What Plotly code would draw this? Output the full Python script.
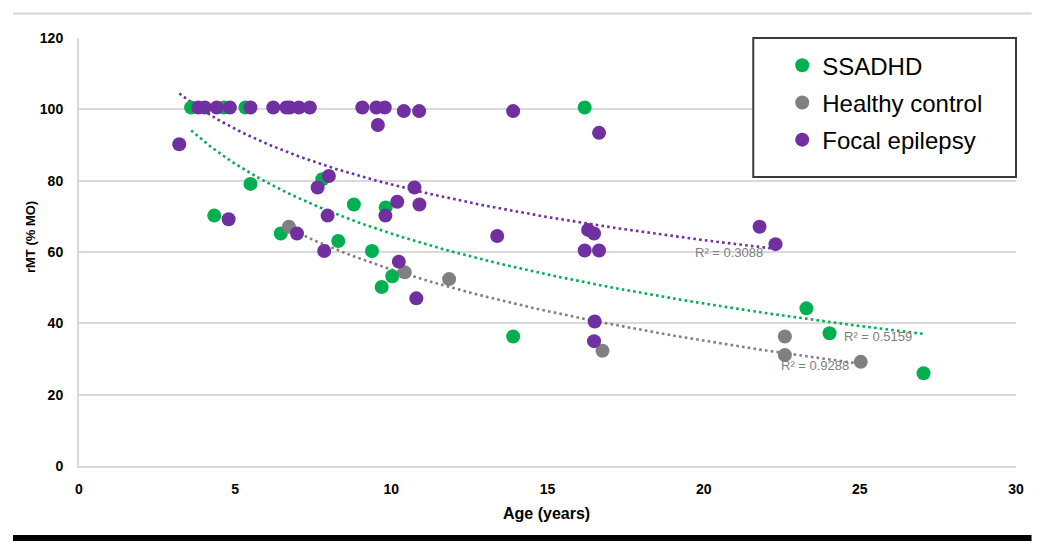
import numpy as np
import plotly.graph_objects as go

# ---- data ----
ssadhd_age = [3.59, 4.64, 5.33, 4.33, 5.49, 6.46, 7.79, 8.80, 8.30, 9.38, 9.82, 10.03, 9.69, 13.90, 16.19, 23.29, 24.03, 27.04]
ssadhd_rmt = [100.5, 100.5, 100.5, 70.2, 79.1, 65.2, 80.4, 73.3, 63.1, 60.3, 72.5, 53.2, 50.2, 36.3, 100.5, 44.2, 37.2, 26.0]

healthy_age = [6.72, 10.43, 11.85, 16.76, 22.60, 22.60, 25.03]
healthy_rmt = [67.1, 54.3, 52.4, 32.3, 36.3, 31.1, 29.2]

focal_age = [3.21, 3.82, 4.03, 4.41, 4.83, 5.49, 6.22, 6.64, 6.75, 7.04, 7.39, 9.07, 9.52, 9.79,
             10.40, 10.89, 9.57, 13.90, 16.65, 4.79, 6.98, 7.64, 8.00, 7.96, 7.85, 9.81, 10.19,
             10.74, 10.90, 10.24, 10.80, 13.39, 16.30, 16.49, 16.19, 16.65, 16.51, 16.49, 21.79, 22.30]
focal_rmt = [90.2, 100.5, 100.5, 100.5, 100.5, 100.5, 100.5, 100.5, 100.5, 100.5, 100.5, 100.5, 100.5, 100.5,
             99.5, 99.5, 95.6, 99.5, 93.4, 69.2, 65.2, 78.1, 81.3, 70.2, 60.3, 70.2, 74.1,
             78.1, 73.3, 57.3, 47.0, 64.5, 66.2, 65.2, 60.4, 60.4, 40.5, 35.0, 67.1, 62.2]

series_names = ["SSADHD", "Healthy control", "Focal epilepsy"]
series_colors = ["#00B050", "#808080", "#7030A0"]
r2_labels = ["R² = 0.5159", "R² = 0.9288", "R² = 0.3088"]
r2_pos = [(25.57, 36.3), (23.58, 28.1), (20.81, 60.0)]

x_ticks = [0, 5, 10, 15, 20, 25, 30]
y_ticks = [0, 20, 40, 60, 80, 100, 120]

series = [(ssadhd_age, ssadhd_rmt), (healthy_age, healthy_rmt), (focal_age, focal_rmt)]

FAM = "Liberation Sans Narrow, Liberation Sans, Arial"
TICK_FONT = dict(family=FAM, size=14, color="#000000", weight="bold")

fig = go.Figure()

# logarithmic trendlines (least-squares fit of y = a + b ln x), drawn below the points
for (xs, ys), name, col in zip(series, series_names, series_colors):
    xa = np.asarray(xs, dtype=float)
    ya = np.asarray(ys, dtype=float)
    b, a = np.polyfit(np.log(xa), ya, 1)
    xf = np.linspace(xa.min(), xa.max(), 200)
    fig.add_trace(go.Scatter(x=xf, y=a + b * np.log(xf), mode="lines",
                             line=dict(color=col, width=2.6, dash="2.6px,3.2px"),
                             hoverinfo="skip", showlegend=False))

for i, ((xs, ys), name, col) in enumerate(zip(series, series_names, series_colors)):
    fig.add_trace(go.Scatter(x=xs, y=ys, mode="markers", name=name, legendgroup=f"g{i}",
                             marker=dict(color=col, size=14, line=dict(width=0))))

for txt, (px, py) in zip(r2_labels, r2_pos):
    fig.add_annotation(x=px, y=py, text=txt, showarrow=False, xanchor="center", yanchor="middle",
                       font=dict(family=FAM, size=13, color="#7f7f7f"))

# axis titles
fig.add_annotation(xref="paper", yref="paper", x=0.4985, y=-0.11, text="Age (years)", showarrow=False,
                   xanchor="center", yanchor="middle",
                   font=dict(family=FAM, size=16, color="#000000", weight="bold"))
fig.add_annotation(xref="paper", yref="paper", x=-0.0523, y=0.535, text="rMT (% MO)", showarrow=False,
                   textangle=-90, xanchor="center", yanchor="middle",
                   font=dict(family=FAM, size=13, color="#000000", weight="bold"))

# legend box, top rule and bottom bar
fig.add_shape(type="rect", xref="paper", yref="paper", x0=0.7196, x1=1.0, y0=0.675, y1=1.0,
              line=dict(color="#3a3a3a", width=2), fillcolor="white", layer="above")
fig.add_shape(type="line", xref="paper", yref="paper", x0=-0.0704, x1=1.0166, y0=1.057, y1=1.057,
              line=dict(color="#d4d4d4", width=2))
fig.add_shape(type="line", xref="paper", yref="paper", x0=-0.0704, x1=1.0166, y0=-0.1683, y1=-0.1683,
              line=dict(color="#000000", width=6))

# page body has an 8px default margin, so the figure is sized to the remaining window area
fig.update_layout(
    width=1042, height=542,
    margin=dict(l=71, r=34, t=30, b=84),
    paper_bgcolor="white", plot_bgcolor="white",
    showlegend=True,
    legend=dict(x=0.7505, y=0.988, xanchor="left", yanchor="top", bgcolor="rgba(0,0,0,0)",
                borderwidth=0, tracegroupgap=3, traceorder="grouped",
                font=dict(family="Liberation Sans, Arial", size=24, color="#000000")),
    xaxis=dict(range=[0, 30], tickvals=x_ticks, showgrid=False, zeroline=False,
               showline=True, linecolor="#d9d9d9", linewidth=2, ticks="",
               tickfont=TICK_FONT, ticklabelstandoff=9, fixedrange=True),
    yaxis=dict(range=[0, 120], tickvals=y_ticks, showgrid=True, gridcolor="#d9d9d9", gridwidth=2,
               zeroline=False, showline=True, linecolor="#d9d9d9", linewidth=2, ticks="",
               tickfont=TICK_FONT, ticklabelstandoff=11, fixedrange=True),
)

fig.write_html("out.html")
